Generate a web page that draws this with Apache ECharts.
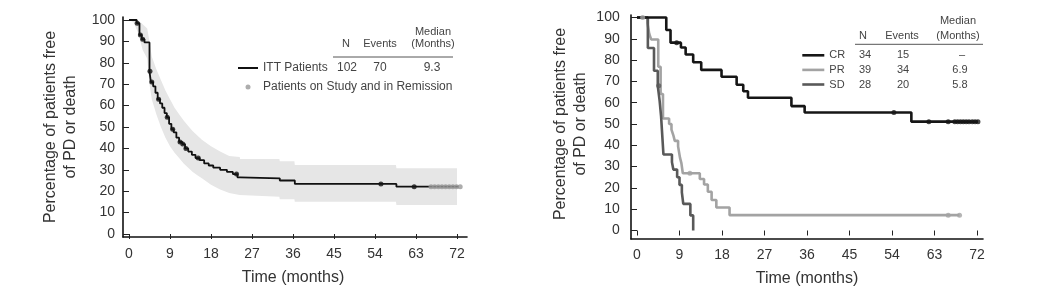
<!DOCTYPE html>
<html>
<head>
<meta charset="utf-8">
<style>
  html, body { margin: 0; padding: 0; background: #fff; }
  #chart { width: 1041px; height: 292px; }
</style>
<script src="https://cdn.jsdelivr.net/npm/echarts@6/dist/echarts.min.js"></script>
</head>
<body>
<div id="chart"></div>
<script>
// ---- left panel: ITT patients (time in months, % free of PD or death)
var ittCurve = [[0, 100], [1.7, 98.5], [2.3, 93], [2.8, 91], [3.4, 89.5], [4.5, 76], [4.8, 71], [5.3, 69], [5.8, 66],
  [6.3, 63], [6.8, 61], [7.3, 59], [7.8, 56.5], [8.3, 54.5], [8.8, 51.5], [9.3, 49], [9.8, 47.5], [10.4, 45],
  [11, 43], [11.7, 42], [12.3, 40], [13, 38.5], [13.8, 37], [14.6, 35.5], [15.5, 34.5], [16.5, 33], [17.5, 32],
  [18.5, 31], [20, 30], [21.5, 29], [22.8, 28], [23.8, 26.5], [24.4, 26], [33.1, 25], [36.4, 23.4], [58.7, 22.1], [73, 22.1]]
var ittCensored = [[1.8, 98.5], [2.5, 93], [3.0, 91], [4.6, 76], [5.0, 71], [6.5, 63], [8.4, 54.5], [9.6, 49],
  [11.2, 43], [11.8, 42], [12.5, 40], [15.2, 35.5], [23.6, 28], [55.3, 23.4], [62.6, 22.1]]
var remission = [[66.3, 22.1], [67.1, 22.1], [67.9, 22.1], [68.7, 22.1], [69.5, 22.1], [70.3, 22.1],
  [71.1, 22.1], [71.9, 22.1], [72.7, 22.1]]
// 95% CI band around the ITT curve
var bandT = [0, 1, 2, 3, 4, 4.5, 5, 6, 7, 8, 9, 10, 11, 12, 13, 14, 15, 16, 17, 18, 20, 22, 24.3, 24.4, 33, 33.1, 36.3, 36.4, 58.6, 58.7, 73.5]
var bandHigh = [100, 100, 100, 98, 96, 90, 83, 77, 72, 67, 63, 59, 56, 53, 50.5, 48, 46, 44, 42.5, 41, 38.5, 36.5, 36, 35, 35, 34, 34, 32.2, 32.2, 30.7, 30.7]
var bandLow = [100, 99, 94, 86, 82, 70, 63, 56, 50, 45, 41, 38, 35.5, 33, 31, 29, 27.5, 26, 24.5, 23, 20.8, 19.2, 18.2, 17.4, 17.4, 16.2, 16.2, 15.1, 15.1, 13.6, 13.6]
var ittRow = ['102', '70', '9.3']

// ---- right panel: by best response
var crCurve = [[0, 100], [6.2, 94.1], [7.1, 88.2], [9.3, 85.9], [10.3, 82.6], [11.9, 79.0], [13.6, 75.4], [17.9, 72.2],
  [21.1, 68.4], [22.5, 65.4], [23.5, 62.3], [32.7, 58.4], [35.5, 55.4], [58.1, 51.1], [72.2, 51.1]]
var prCurve = [[0, 100], [2.2, 97.4], [2.6, 92.3], [3.0, 89.7], [4.5, 76.9], [5.0, 64.1], [5.5, 52.6], [6.8, 50],
  [7.3, 47.4], [7.7, 44.7], [8.0, 42.1], [8.7, 39.5], [9.1, 34.2], [9.4, 31.6], [9.7, 26.9], [13.3, 24.2],
  [14.2, 21.6], [15.0, 18.2], [15.8, 14.3], [16.8, 10.8], [19.6, 7.2], [68.3, 7.2]]
var sdCurve = [[0, 100], [2.3, 85.7], [3.6, 75], [4.4, 67.9], [4.8, 60.7], [5.1, 53.6], [5.3, 46.4], [5.6, 35.7],
  [7.4, 32.1], [7.7, 28.6], [8.5, 25], [9.0, 21.4], [9.5, 17.9], [9.8, 12.5], [11.3, 7.1], [11.9, 0]]
var crCensored = [[8.4, 88.2], [54.4, 55.4], [61.8, 51.1], [65.9, 51.1], [67.3, 51.1], [67.9, 51.1], [68.5, 51.1],
  [69.1, 51.1], [69.7, 51.1], [70.3, 51.1], [71, 51.1], [71.6, 51.1], [72.2, 51.1]]
var prCensored = [[1.2, 100], [11.2, 26.9], [65.9, 7.2], [68.3, 7.2]]
var sdCensored = [[4.6, 67.9]]
var crRow = ['34', '15', '–']
var prRow = ['39', '34', '6.9']
var sdRow = ['28', '20', '5.8']

var xTicks = { min: 0, max: 72, interval: 9 }
var yTicks = { min: 0, max: 100, interval: 10 }

var FONT = 'Liberation Sans, Arial, sans-serif'
var chart = echarts.init(document.getElementById('chart'))

function zip (xs, ys) {
  return xs.map(function (x, i) { return [x, ys[i]] })
}

function dataX (grid, offset, margin, gap) {
  return {
    gridIndex: grid, type: 'value', min: xTicks.min, max: xTicks.max, interval: xTicks.interval, offset: offset,
    axisLine: { show: false }, splitLine: { show: false },
    axisTick: { length: 5, lineStyle: { color: '#222' } },
    axisLabel: { margin: margin, fontSize: 14, color: '#333', fontFamily: FONT },
    name: 'Time (months)', nameLocation: 'middle', nameGap: gap,
    nameTextStyle: { fontSize: 16, color: '#333', fontFamily: FONT }
  }
}
function dataY (grid, offset, margin, gap) {
  return {
    gridIndex: grid, type: 'value', min: yTicks.min, max: yTicks.max, interval: yTicks.interval, offset: offset,
    axisLine: { show: false }, splitLine: { show: false },
    axisTick: { length: 6, lineStyle: { color: '#222' } },
    axisLabel: { margin: margin, fontSize: 14, color: '#333', fontFamily: FONT },
    name: 'Percentage of patients free\nof PD or death', nameLocation: 'middle', nameGap: gap, nameRotate: 90,
    nameTextStyle: { fontSize: 16, color: '#333', fontFamily: FONT, lineHeight: 20 }
  }
}
// longer axis lines that frame each plot, like the original
function frameAxis (grid) {
  return {
    gridIndex: grid, type: 'value', min: 0, max: 1,
    axisLine: { lineStyle: { color: '#111', width: 1.6 } },
    axisTick: { show: false }, axisLabel: { show: false }, splitLine: { show: false }
  }
}
function km (name, data, color, width, xi) {
  return {
    name: name, type: 'line', xAxisIndex: xi, yAxisIndex: xi, data: data, step: 'end', symbol: 'none',
    clip: false, z: 3, lineStyle: { color: color, width: width }, itemStyle: { color: color }
  }
}
function dots (name, data, color, xi) {
  return {
    name: name, type: 'scatter', xAxisIndex: xi, yAxisIndex: xi, data: data, symbol: 'circle', symbolSize: 5,
    clip: false, z: 4, itemStyle: { color: color }
  }
}
function txt (x, y, s, size) {
  return {
    type: 'text', silent: true,
    style: { x: x, y: y, text: s, fill: '#444', font: (size || 11) + 'px ' + FONT, align: 'center', verticalAlign: 'middle', textAlign: 'center', textVerticalAlign: 'middle' }
  }
}
function rule (x1, x2, y) {
  return { type: 'line', silent: true, shape: { x1: x1, y1: y, x2: x2, y2: y }, style: { stroke: '#555', lineWidth: 1 } }
}

chart.setOption({
  backgroundColor: '#fff',
  animation: false,
  grid: [
    { left: 129, top: 20, width: 328, height: 214 },
    { left: 123, top: 17, width: 344, height: 220 },
    { left: 637, top: 17.5, width: 340, height: 220 },
    { left: 631, top: 15, width: 352, height: 224 }
  ],
  xAxis: [dataX(0, 3, 10, 33), frameAxis(1), dataX(2, 1.5, 16, 39), frameAxis(3)],
  yAxis: [dataY(0, 6, 8, 42), frameAxis(1), dataY(2, 6.3, 11, 40), frameAxis(3)],
  legend: [
    {
      left: 237, top: 61, padding: 0, orient: 'vertical', itemWidth: 20, itemHeight: 5, itemGap: 5, selectedMode: false,
      lineStyle: { width: 2 },
      textStyle: { fontSize: 12, color: '#444', fontFamily: FONT, lineHeight: 14 },
      data: [{ name: 'ITT Patients', itemStyle: { opacity: 0 } }, { name: 'Patients on Study and in Remission', icon: 'circle' }]
    },
    {
      left: 801, top: 48, padding: 0, orient: 'vertical', itemWidth: 22, itemHeight: 5, itemGap: 0, selectedMode: false,
      lineStyle: { width: 2.6 }, itemStyle: { opacity: 0 },
      textStyle: { fontSize: 11, color: '#444', fontFamily: FONT, lineHeight: 14.6 },
      data: ['CR', 'PR', 'SD']
    }
  ],
  graphic: [
    txt(346, 44, 'N'), txt(380, 44, 'Events'), txt(433, 32, 'Median'), txt(433, 44, '(Months)'),
    rule(333, 453, 57),
    txt(347, 68, ittRow[0], 12), txt(380, 68, ittRow[1], 12), txt(432, 68, ittRow[2], 12),
    txt(863, 36, 'N'), txt(902, 36, 'Events'), txt(958, 21, 'Median'), txt(958, 36, '(Months)'),
    rule(855, 983, 44.3),
    txt(865, 55, crRow[0]), txt(903, 55, crRow[1]), txt(962, 55, crRow[2]),
    txt(865, 70, prRow[0]), txt(903, 70, prRow[1]), txt(960, 70, prRow[2]),
    txt(865, 84.5, sdRow[0]), txt(903, 84.5, sdRow[1]), txt(960, 84.5, sdRow[2])
  ],
  series: [
    // grey up to the upper limit, then white below the lower limit leaves the band
    {
      name: 'ci-high', type: 'line', xAxisIndex: 0, yAxisIndex: 0, symbol: 'none', clip: false, z: 1, silent: true,
      data: zip(bandT, bandHigh), lineStyle: { width: 0 }, areaStyle: { color: '#e6e6e6', opacity: 1, origin: 'start' }
    },
    {
      name: 'ci-low', type: 'line', xAxisIndex: 0, yAxisIndex: 0, symbol: 'none', clip: false, z: 2, silent: true,
      data: zip(bandT, bandLow), lineStyle: { width: 0 }, areaStyle: { color: '#fff', opacity: 1, origin: 'start' }
    },
    km('ITT Patients', ittCurve, '#111', 1.8, 0),
    dots('ITT censored', ittCensored, '#111', 0),
    dots('Patients on Study and in Remission', remission, '#999', 0),
    km('PR', prCurve, '#a3a3a3', 2.6, 2),
    km('SD', sdCurve, '#595959', 2.6, 2),
    km('CR', crCurve, '#161616', 2.6, 2),
    dots('PR censored', prCensored, '#a3a3a3', 2),
    dots('SD censored', sdCensored, '#595959', 2),
    dots('CR censored', crCensored, '#161616', 2)
  ]
})

window.onresize = function () { chart.resize() }
</script>
</body>
</html>
